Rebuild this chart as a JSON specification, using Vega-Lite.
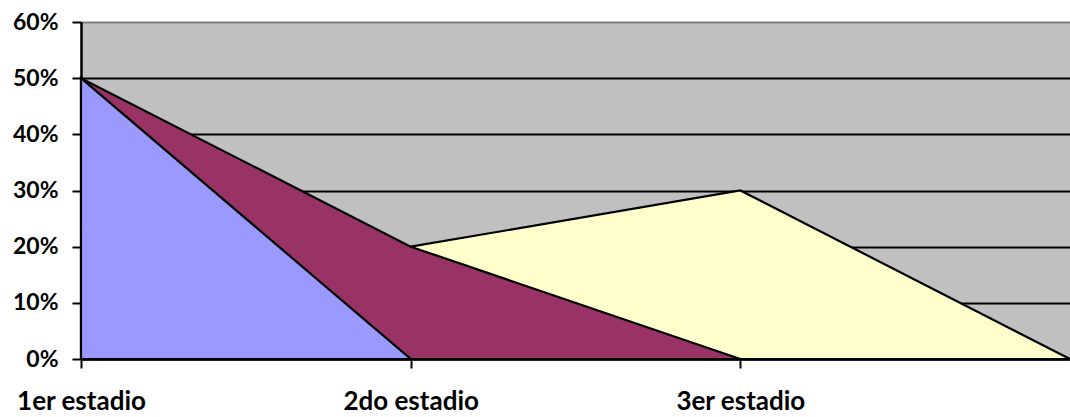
{
  "$schema": "https://vega.github.io/schema/vega-lite/v6.json",
  "autosize": "none",
  "width": 989,
  "height": 337,
  "padding": {"left": 81, "top": 22, "right": 0, "bottom": 58},
  "background": "white",
  "view": {"fill": "#C0C0C0", "stroke": null},
  "data": {
    "values": [
      {"serie": "A", "estadio": "1er estadio", "valor": 0.5},
      {"serie": "A", "estadio": "2do estadio", "valor": 0.0},
      {"serie": "B", "estadio": "1er estadio", "valor": 0.5},
      {"serie": "B", "estadio": "2do estadio", "valor": 0.2},
      {"serie": "B", "estadio": "3er estadio", "valor": 0.0},
      {"serie": "C", "estadio": "2do estadio", "valor": 0.2},
      {"serie": "C", "estadio": "3er estadio", "valor": 0.3},
      {"serie": "C", "estadio": "4to estadio", "valor": 0.0}
    ]
  },
  "encoding": {
    "x": {
      "field": "estadio",
      "type": "ordinal",
      "scale": {"type": "point", "padding": 0, "domain": ["1er estadio", "2do estadio", "3er estadio", "4to estadio"]},
      "axis": {
        "title": null,
        "labelAngle": 0,
        "labelExpr": "datum.value == '4to estadio' ? '' : datum.value",
        "labelFont": "Lato",
        "labelFontWeight": "bold",
        "labelFontSize": 26,
        "labelColor": "black",
        "labelPadding": 20,
        "tickSize": 9,
        "tickColor": "black",
        "tickWidth": 2,
        "tickOpacity": {"condition": {"test": "datum.value == '4to estadio'", "value": 0}, "value": 1},
        "domainColor": "black",
        "domainWidth": 2.5,
        "grid": false
      }
    },
    "y": {
      "field": "valor",
      "type": "quantitative",
      "stack": null,
      "scale": {"domain": [0, 0.6], "nice": false},
      "axis": {
        "title": null,
        "values": [0, 0.1, 0.2, 0.3, 0.4, 0.5, 0.6],
        "format": ".0%",
        "labelFont": "Lato",
        "labelFontWeight": "bold",
        "labelFontSize": 23,
        "labelColor": "black",
        "labelPadding": 14,
        "tickSize": 9,
        "tickColor": "black",
        "tickWidth": 2,
        "domainColor": "black",
        "domainWidth": 2.5,
        "grid": true,
        "gridColor": {"condition": {"test": "datum.value >= 0.6", "value": "#808080"}, "value": "black"},
        "gridWidth": 2
      }
    }
  },
  "layer": [
    {
      "transform": [{"filter": "datum.serie == 'C'"}],
      "mark": {"type": "area", "color": "#FFFFCC", "stroke": "black", "strokeWidth": 2.2, "opacity": 1}
    },
    {
      "transform": [{"filter": "datum.serie == 'B'"}],
      "mark": {"type": "area", "color": "#993366", "stroke": "black", "strokeWidth": 2.2, "opacity": 1}
    },
    {
      "transform": [{"filter": "datum.serie == 'A'"}],
      "mark": {"type": "area", "color": "#9999FF", "stroke": "black", "strokeWidth": 2.2, "opacity": 1}
    }
  ]
}
